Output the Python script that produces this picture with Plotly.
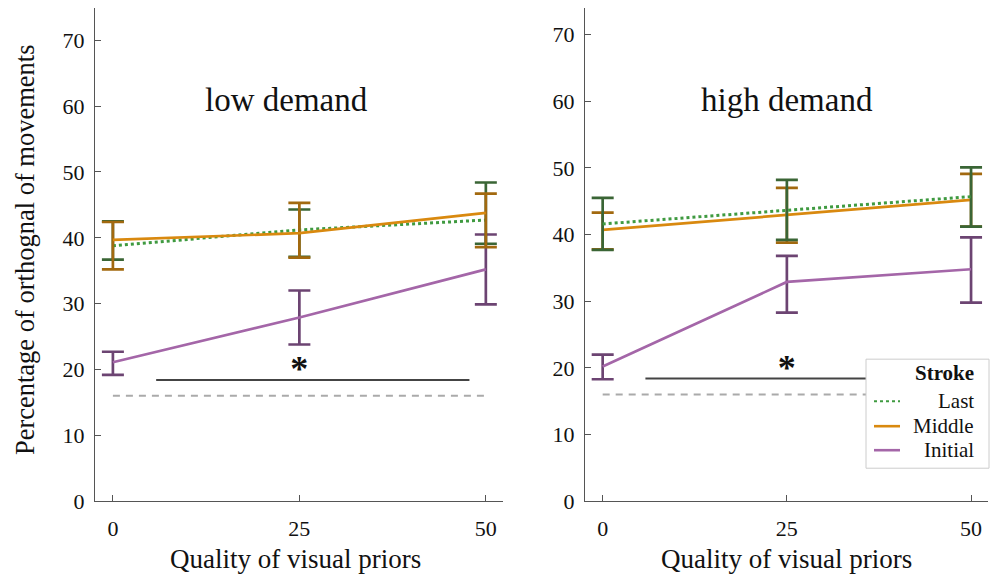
import plotly.graph_objects as go

# ---------------- data ----------------
quality = [0, 25, 50]
x_ticks = [0, 25, 50]
y_ticks = [0, 10, 20, 30, 40, 50, 60, 70]
strokes = ["Last", "Middle", "Initial"]

# low demand
low_initial = [21.1, 27.9, 35.2]
low_initial_hi = [22.7, 32.0, 40.5]
low_initial_lo = [19.2, 23.8, 29.9]
low_middle = [39.7, 40.7, 43.8]
low_middle_hi = [42.4, 45.3, 46.7]
low_middle_lo = [35.2, 37.0, 38.6]
low_last = [38.8, 41.2, 42.7]
low_last_hi = [42.5, 44.3, 48.4]
low_last_lo = [36.7, 37.1, 39.1]

# high demand
high_initial = [20.2, 32.9, 34.8]
high_initial_hi = [22.0, 36.8, 39.6]
high_initial_lo = [18.3, 28.3, 29.8]
high_middle = [40.7, 42.9, 45.2]
high_middle_hi = [43.3, 47.0, 49.1]
high_middle_lo = [37.8, 38.8, 41.2]
high_last = [41.6, 43.7, 45.7]
high_last_hi = [45.5, 48.2, 50.1]
high_last_lo = [37.7, 39.2, 41.2]

# significance bar and chance level
sig_x = [5.8, 47.8]
sig_y = 18.4
sig_star_y = 19.6
chance_x = [0, 50]
chance_y = 16.0

FONT = "Liberation Serif"
W, H = 990, 576
K = 0.977  # vertical compensation of the page capture


def px(x):
    return x / W


def py(y):
    return 1 - (y / K) / H


col_line = {"Last": "#3f9a40", "Middle": "#d9890f", "Initial": "#a466a8"}
col_err = {"Last": "#3a6535", "Middle": "#a2690f", "Initial": "#6c4472"}
dash = {"Last": "dot", "Middle": "solid", "Initial": "solid"}
TXT = "#111111"

fig = go.Figure()


def add_series(name, y, hi, lo, xa, ya):
    fig.add_trace(go.Scatter(
        x=quality, y=y, mode="lines", showlegend=False, name=name,
        line=dict(color=col_line[name], width=2.7 if name != "Last" else 3, dash=dash[name]),
        error_y=dict(type="data", symmetric=False,
                     array=[h - v for h, v in zip(hi, y)],
                     arrayminus=[v - l for v, l in zip(y, lo)],
                     color=col_err[name], thickness=2.7, width=11),
        xaxis=xa, yaxis=ya, cliponaxis=False))


def add_refs(xa, ya):
    fig.add_trace(go.Scatter(x=chance_x, y=[chance_y, chance_y], mode="lines",
                             line=dict(color="#aaaaaa", width=2, dash="7px,6px"),
                             showlegend=False, xaxis=xa, yaxis=ya))
    fig.add_trace(go.Scatter(x=sig_x, y=[sig_y, sig_y], mode="lines",
                             line=dict(color="#444444", width=2),
                             showlegend=False, xaxis=xa, yaxis=ya))
    fig.add_trace(go.Scatter(x=[25], y=[sig_star_y], mode="text", text=["<b>*</b>"],
                             textfont=dict(family=FONT, size=36, color="#111"),
                             textposition="middle center",
                             showlegend=False, xaxis=xa, yaxis=ya))


# left panel
add_refs("x", "y")
add_series("Initial", low_initial, low_initial_hi, low_initial_lo, "x", "y")
add_series("Last", low_last, low_last_hi, low_last_lo, "x", "y")
add_series("Middle", low_middle, low_middle_hi, low_middle_lo, "x", "y")
# right panel
add_refs("x2", "y2")
add_series("Initial", high_initial, high_initial_hi, high_initial_lo, "x2", "y2")
add_series("Middle", high_middle, high_middle_hi, high_middle_lo, "x2", "y2")
add_series("Last", high_last, high_last_hi, high_last_lo, "x2", "y2")

axis_common = dict(showline=True, linecolor="#555555", linewidth=1.3, showgrid=False,
                   zeroline=False, ticks="inside", ticklen=6, tickwidth=1.2,
                   tickcolor="#555555", tickfont=dict(family=FONT, size=22, color=TXT))

ydom = [py(501), py(8)]
fig.update_layout(
    width=W, height=H, margin=dict(l=0, r=0, t=0, b=0),
    paper_bgcolor="white", plot_bgcolor="white",
    xaxis=dict(domain=[px(95), px(503)], range=[-2.4, 52.3], tickvals=x_ticks,
               anchor="y", ticklabelstandoff=7, **axis_common),
    yaxis=dict(domain=ydom, range=[0, 74.9], tickvals=y_ticks, anchor="x",
               ticklabelstandoff=5, **axis_common),
    xaxis2=dict(domain=[px(585), px(988)], range=[-2.4, 52.3], tickvals=x_ticks,
                anchor="y2", ticklabelstandoff=7, **axis_common),
    yaxis2=dict(domain=ydom, range=[0, 74.0], tickvals=y_ticks, anchor="x2",
                ticklabelstandoff=5, **axis_common),
)

ann = []
# panel titles
ann.append(dict(text="low demand", x=px(286), y=py(100), xref="paper", yref="paper",
                showarrow=False, font=dict(family=FONT, size=33, color=TXT),
                xanchor="center", yanchor="middle"))
ann.append(dict(text="high demand", x=px(787), y=py(100), xref="paper", yref="paper",
                showarrow=False, font=dict(family=FONT, size=33, color=TXT),
                xanchor="center", yanchor="middle"))
# axis titles
for cx in (295, 786):
    ann.append(dict(text="Quality of visual priors", x=px(cx), y=py(559),
                    xref="paper", yref="paper", showarrow=False,
                    font=dict(family=FONT, size=27, color=TXT),
                    xanchor="center", yanchor="middle", borderpad=0))
ann.append(dict(text="Percentage of orthognal of movements", x=px(25), y=py(250),
                xref="paper", yref="paper", showarrow=False, textangle=-90,
                font=dict(family=FONT, size=26.5, color=TXT),
                xanchor="center", yanchor="middle"))

# manual legend
shapes = [dict(type="rect", xref="paper", yref="paper", x0=px(866), x1=px(989),
               y0=py(468), y1=py(359), fillcolor="white",
               line=dict(color="#cccccc", width=1), layer="above")]
ann.append(dict(text="<b>Stroke</b>", x=px(976), y=py(373), xref="paper", yref="paper",
                showarrow=False, font=dict(family=FONT, size=21, color=TXT),
                xanchor="right", yanchor="middle"))
leg_y = {"Last": 401, "Middle": 426, "Initial": 450}
for s in strokes:
    shapes.append(dict(type="line", xref="paper", yref="paper", x0=px(874), x1=px(900),
                       y0=py(leg_y[s]), y1=py(leg_y[s]), layer="above",
                       line=dict(color=col_line[s], width=2.6 if s != "Last" else 2,
                                 dash="dot" if s == "Last" else "solid")))
    ann.append(dict(text=s, x=px(976), y=py(leg_y[s]), xref="paper", yref="paper",
                    showarrow=False, font=dict(family=FONT, size=21, color=TXT),
                    xanchor="right", yanchor="middle"))

fig.update_layout(annotations=ann, shapes=shapes)
fig.write_html("out.html")
